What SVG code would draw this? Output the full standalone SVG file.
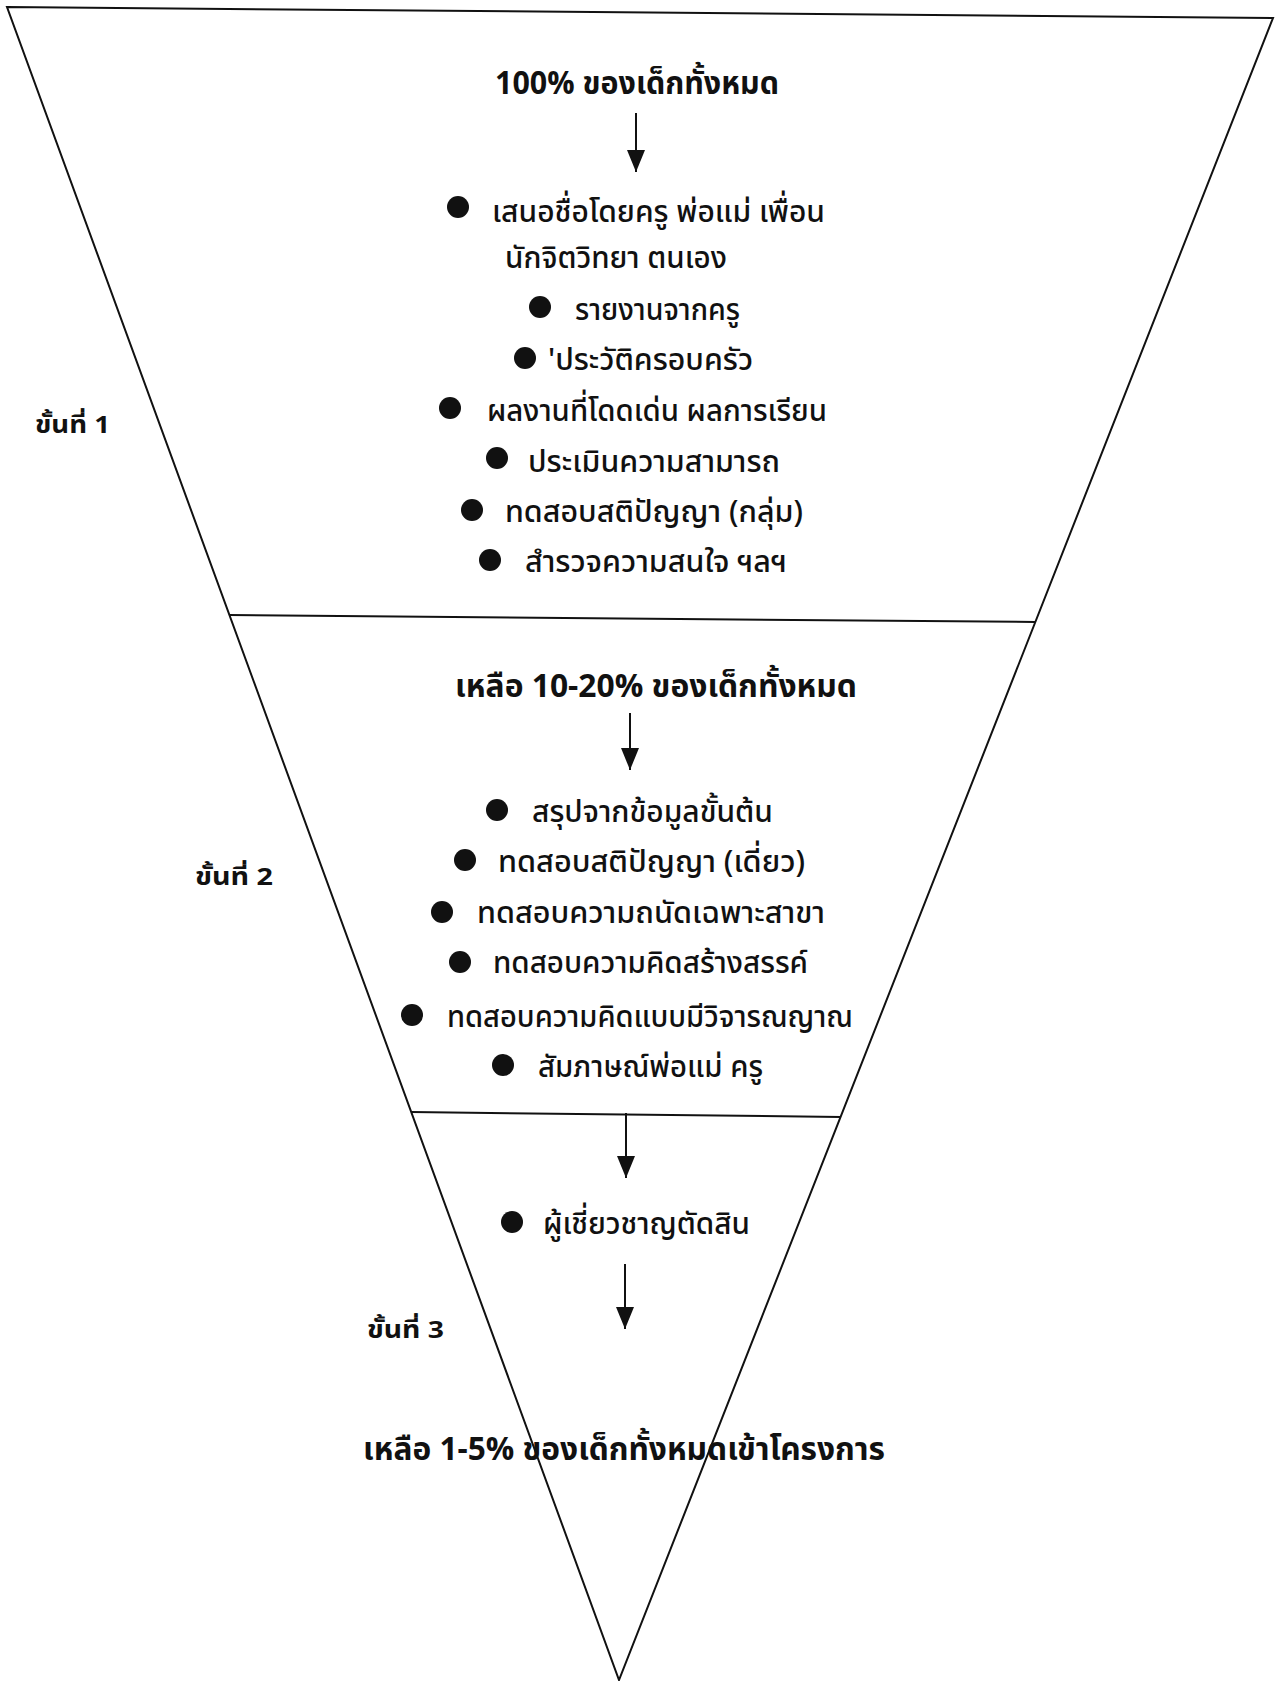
<svg xmlns="http://www.w3.org/2000/svg" width="1283" height="1681" viewBox="0 0 1283 1681">
<style>
.t{font-family:"Noto Sans Thai","Noto Sans","DejaVu Sans",sans-serif;font-size:31px;font-weight:500;fill:#111;}
.b{font-family:"Noto Sans Thai","Noto Sans","DejaVu Sans",sans-serif;font-size:32px;font-weight:bold;fill:#111;}
.s{font-family:"Noto Sans Thai","Noto Sans","DejaVu Sans",sans-serif;font-size:24px;font-weight:bold;fill:#111;}
.edge{stroke:#111;stroke-width:2;fill:none;}
.arr{stroke:#111;stroke-width:2;fill:none;marker-end:url(#ah);}
.dot{fill:#111;}
</style>
<defs>
<marker id="ah" markerUnits="userSpaceOnUse" markerWidth="22" markerHeight="18" refX="22" refY="9" orient="auto" viewBox="0 0 22 18">
<path d="M0,0 L22,9 L0,18 Z" fill="#111"/>
</marker>
</defs>
<rect width="1283" height="1681" fill="#fff"/>
<g id="funnel">
<path class="edge" d="M7,7 L1273,18 L619,1680 Z" stroke-width="2.5"/>
<line class="edge" x1="229" y1="615" x2="1035" y2="622"/>
<line class="edge" x1="411" y1="1112" x2="841" y2="1117"/>
</g>
<g id="connectors">
<line class="arr" x1="636" y1="113" x2="636" y2="172"/>
<line class="arr" x1="630" y1="713" x2="630" y2="770"/>
<line class="arr" x1="626" y1="1113" x2="626" y2="1178"/>
<line class="arr" x1="625" y1="1264" x2="625" y2="1329"/>
</g>
<g id="stage1">
<text class="b" x="495" y="94" textLength="284" lengthAdjust="spacingAndGlyphs">100% ของเด็กทั้งหมด</text>
<circle class="dot" cx="458" cy="207" r="11"/>
<text class="t" x="492" y="222" textLength="333" lengthAdjust="spacingAndGlyphs">เสนอชื่อโดยครู พ่อแม่ เพื่อน</text>
<text class="t" x="505" y="268" textLength="222" lengthAdjust="spacingAndGlyphs">นักจิตวิทยา ตนเอง</text>
<circle class="dot" cx="540" cy="307" r="11"/>
<text class="t" x="575" y="320" textLength="165" lengthAdjust="spacingAndGlyphs">รายงานจากครู</text>
<circle class="dot" cx="525" cy="358" r="11"/>
<text class="t" x="548" y="370" textLength="205" lengthAdjust="spacingAndGlyphs">'ประวัติครอบครัว</text>
<circle class="dot" cx="450" cy="408" r="11"/>
<text class="t" x="487" y="421" textLength="340" lengthAdjust="spacingAndGlyphs">ผลงานที่โดดเด่น ผลการเรียน</text>
<circle class="dot" cx="497" cy="458" r="11"/>
<text class="t" x="528" y="472" textLength="252" lengthAdjust="spacingAndGlyphs">ประเมินความสามารถ</text>
<circle class="dot" cx="472" cy="510" r="11"/>
<text class="t" x="505" y="522" textLength="298" lengthAdjust="spacingAndGlyphs">ทดสอบสติปัญญา (กลุ่ม)</text>
<circle class="dot" cx="490" cy="560" r="11"/>
<text class="t" x="525" y="572" textLength="262" lengthAdjust="spacingAndGlyphs">สำรวจความสนใจ ฯลฯ</text>
<text class="s" x="35" y="433" textLength="75" lengthAdjust="spacingAndGlyphs">ขั้นที่ 1</text>
</g>
<g id="stage2">
<text class="b" x="455" y="697" textLength="402" lengthAdjust="spacingAndGlyphs">เหลือ 10-20% ของเด็กทั้งหมด</text>
<circle class="dot" cx="497" cy="810" r="11"/>
<text class="t" x="532" y="822" textLength="241" lengthAdjust="spacingAndGlyphs">สรุปจากข้อมูลขั้นต้น</text>
<circle class="dot" cx="465" cy="860" r="11"/>
<text class="t" x="498" y="872" textLength="307" lengthAdjust="spacingAndGlyphs">ทดสอบสติปัญญา (เดี่ยว)</text>
<circle class="dot" cx="442" cy="912" r="11"/>
<text class="t" x="477" y="923" textLength="348" lengthAdjust="spacingAndGlyphs">ทดสอบความถนัดเฉพาะสาขา</text>
<circle class="dot" cx="460" cy="962" r="11"/>
<text class="t" x="493" y="973" textLength="315" lengthAdjust="spacingAndGlyphs">ทดสอบความคิดสร้างสรรค์</text>
<circle class="dot" cx="412" cy="1015" r="11"/>
<text class="t" x="447" y="1027" textLength="406" lengthAdjust="spacingAndGlyphs">ทดสอบความคิดแบบมีวิจารณญาณ</text>
<circle class="dot" cx="503" cy="1065" r="11"/>
<text class="t" x="538" y="1077" textLength="225" lengthAdjust="spacingAndGlyphs">สัมภาษณ์พ่อแม่ ครู</text>
<text class="s" x="195" y="885" textLength="78" lengthAdjust="spacingAndGlyphs">ขั้นที่ 2</text>
</g>
<g id="stage3">
<circle class="dot" cx="512" cy="1222" r="11"/>
<text class="t" x="543" y="1234" textLength="207" lengthAdjust="spacingAndGlyphs">ผู้เชี่ยวชาญตัดสิน</text>
<text class="s" x="367" y="1338" textLength="77" lengthAdjust="spacingAndGlyphs">ขั้นที่ 3</text>
<text class="b" x="363" y="1460" textLength="522" lengthAdjust="spacingAndGlyphs">เหลือ 1-5% ของเด็กทั้งหมดเข้าโครงการ</text>
</g>
</svg>
